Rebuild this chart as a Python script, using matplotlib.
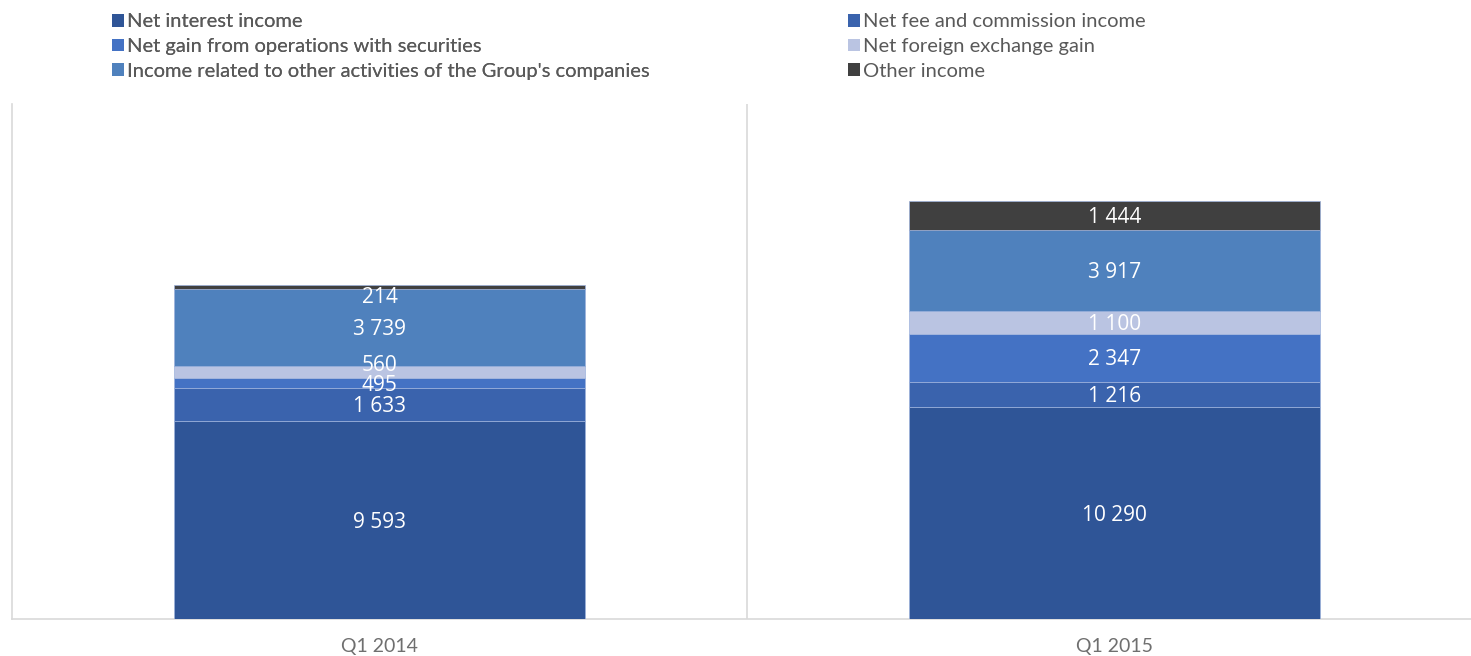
import numpy as np
import matplotlib
matplotlib.use("Agg")
import matplotlib.pyplot as plt
from matplotlib.patches import Patch

#Chart data
categories = ["Q1 2014", "Q1 2015"]
series_names = ["Net interest income", "Net fee and commission income",
                "Net gain from operations with securities", "Net foreign exchange gain",
                "Income related to other activities of the Group's companies", "Other income"]
net_interest = [9593, 10290]
net_fee = [1633, 1216]
securities = [495, 2347]
fx_gain = [560, 1100]
other_activities = [3739, 3917]
other_income = [214, 1444]

series_values = [net_interest, net_fee, securities, fx_gain, other_activities, other_income]
colors = ["#2F5597", "#3A63AD", "#4472C4", "#BAC4E2", "#4F81BD", "#404040"]

#Label offsets (points); small segments get moved like Excel does
base_offset = -1.5
label_nudge = {(5, 0): -7.5, (3, 0): 4.3, (2, 0): -2.2}

plt.rcParams['font.family'] = ['Lato', 'DejaVu Sans']

fig = plt.figure(figsize=(14.71, 6.56), dpi=100)
ax = fig.add_axes([12/1471, 37/656, 1 - 12/1471, 515/656])

x = np.arange(len(categories))
bottom = np.zeros(len(categories))
for i, (vals, col) in enumerate(zip(series_values, colors)):
    vals = np.array(vals, dtype=float)
    ax.bar(x, vals, 0.56, bottom=bottom, color=col, edgecolor="#9DB2DC", linewidth=0.5, zorder=3)
    for j, v in enumerate(vals):
        label = f"{int(v):,}".replace(",", " ")
        ax.annotate(label, (x[j], bottom[j] + v / 2), xytext=(0, label_nudge.get((i, j), base_offset)),
                    textcoords="offset points", ha="center", va="center",
                    color="white", fontsize=15, family=["Open Sans", "DejaVu Sans"], zorder=5)
    bottom += vals

#Axes styling
ax.set_xlim(-0.5, -0.5 + (1471 - 12) / 735)
ax.set_ylim(0, 25000)
ax.axvline(0.5, color="#D9D9D9", linewidth=1.2, zorder=1)
for s in ["top", "right"]:
    ax.spines[s].set_visible(False)
ax.spines['left'].set_color("#D9D9D9")
ax.spines['bottom'].set_color("#D9D9D9")
ax.spines['left'].set_linewidth(1.2)
ax.spines['bottom'].set_linewidth(1.2)
ax.set_yticks([])
ax.set_xticks(x)
ax.set_xticklabels(categories)
ax.tick_params(axis="x", length=0, pad=14, labelsize=14, labelcolor="#6F6F6F")

#Legend in two blocks of three rows
def make_legend(idx, xpos):
    handles = [Patch(facecolor=colors[i], edgecolor="none") for i in idx]
    labels = [series_names[i] for i in idx]
    leg = fig.legend(handles, labels, loc="upper left", bbox_to_anchor=(xpos, 0.986),
                     frameon=False, fontsize=14.5, handlelength=0.6, handleheight=0.6,
                     handletextpad=0.15, labelspacing=0.39, borderaxespad=0, borderpad=0.2,
                     labelcolor="#595959")
    return leg

leg1 = make_legend([0, 2, 4], 108/1471)
fig.add_artist(leg1)
make_legend([1, 3, 5], 844/1471)

fig.savefig("out.png", dpi=100, facecolor="white")
